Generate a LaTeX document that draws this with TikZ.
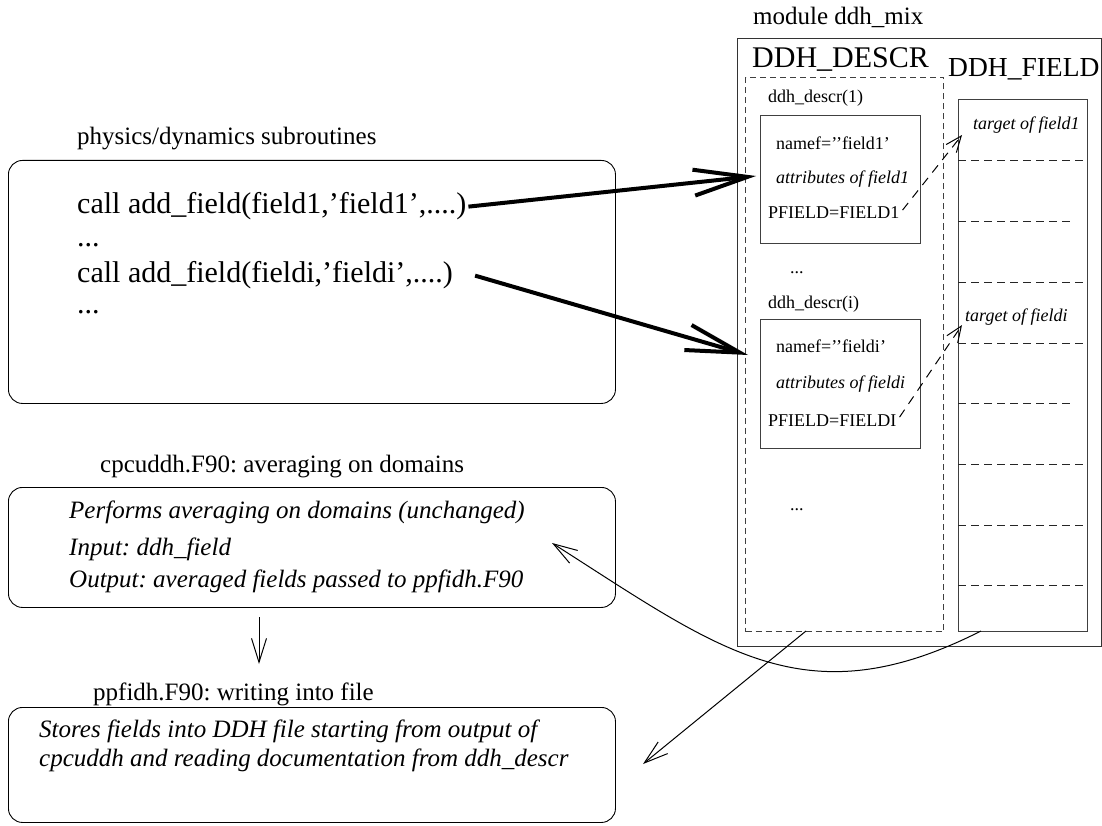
\documentclass[tikz,border=0pt]{standalone}
\usepackage{fontspec}
\setmainfont{Liberation Serif}
\usetikzlibrary{arrows.meta}
\frenchspacing
\begin{document}
\begin{tikzpicture}[x=1pt,y=-1pt,
  rbox/.style={draw, rounded corners=14pt, line width=0.9pt, inner sep=0pt, anchor=north west},
  sbox/.style={draw=black!75, line width=1pt, inner sep=0pt, anchor=north west},
  dbox/.style={draw=black!75, line width=1pt, dash pattern=on 6pt off 4pt, inner sep=0pt, anchor=north west},
  divline/.style={draw=black!85, line width=0.9pt, dash pattern=on 8pt off 5pt},
  lbl/.style={anchor=base west, inner sep=0pt, font=\fontsize{25}{30}\selectfont},
  bigtxt/.style={anchor=base west, inner sep=0pt, font=\fontsize{30}{36}\selectfont},
  smltxt/.style={anchor=base west, inner sep=0pt, font=\fontsize{18}{22}\selectfont},
  heavyarrow/.style={line width=4pt, -{Straight Barb[length=54pt, width=26pt]}},
  thinarrow/.style={line width=1pt, -{Straight Barb[length=24pt, width=15pt]}},
  dasharrow/.style={line width=1pt, dash pattern=on 9pt off 7pt, -{Straight Barb[length=16pt, width=13pt]}}
]
\useasboundingbox (0,0) rectangle (1102,826);

% ---------- left boxes ----------
\node[lbl] (physlbl) at (77,145) {physics/dynamics subroutines};
\node[rbox, minimum width=607pt, minimum height=243pt] (phys) at (8,160) {};
\node[bigtxt] (call1) at (77,214) {call add\_field(field1,’field1’,....)};
\node[bigtxt] (dots1) at (77,247) {...};
\node[bigtxt] (call2) at (77,282) {call add\_field(fieldi,’fieldi’,....)};
\node[bigtxt] (dots2) at (77,313) {...};

\node[lbl] (cpclbl) at (100,472) {cpcuddh.F90: averaging on domains};
\node[rbox, minimum width=607pt, minimum height=120pt] (cpc) at (8,487) {};
\node[lbl, font=\fontsize{25}{30}\selectfont\itshape] (cpc1) at (69,518) {Performs averaging on domains (unchanged)};
\node[lbl, font=\fontsize{25}{30}\selectfont\itshape] (cpc2) at (69,555) {Input: ddh\_field};
\node[lbl, font=\fontsize{25}{30}\selectfont\itshape] (cpc3) at (69,587) {Output: averaged fields passed to ppfidh.F90};

\node[lbl] (pplbl) at (93,700) {ppfidh.F90: writing into file};
\node[rbox, minimum width=607pt, minimum height=115pt] (pp) at (8,707) {};
\node[lbl, font=\fontsize{25}{30}\selectfont\itshape] (pp1) at (39,737) {Stores fields into DDH file starting from output of};
\node[lbl, font=\fontsize{25}{30}\selectfont\itshape] (pp2) at (39,766) {cpcuddh and reading documentation from ddh\_descr};

% ---------- module ----------
\node[lbl] (modlbl) at (753,25) {module ddh\_mix};
\node[sbox, draw=black!80, minimum width=364pt, minimum height=608pt] (mod) at (737,38) {};
\node[anchor=base west, inner sep=0pt, font=\fontsize{30}{36}\selectfont] (descrlbl) at (752,68) {DDH\_DESCR};
\node[anchor=base west, inner sep=0pt, font=\fontsize{27.5}{33}\selectfont] (fieldlbl) at (948,77) {DDH\_FIELD};

\node[dbox, minimum width=198pt, minimum height=554pt] (descr) at (745,77) {};
\node[sbox, minimum width=129pt, minimum height=532pt] (fld) at (958,99) {};

\foreach \yy in {160,282,343,464,525,585} \draw[divline] (958,\yy) -- (1087,\yy);
\foreach \yy in {221,403} \draw[divline] (958,\yy) -- (1073,\yy);

\node[smltxt, font=\fontsize{18}{22}\selectfont\itshape] (tgt1) at (973,130) {target of field1};
\node[smltxt, font=\fontsize{18}{22}\selectfont\itshape] (tgti) at (965,321) {target of fieldi};

\node[smltxt] (d1lbl) at (768,103) {ddh\_descr(1)};
\node[sbox, minimum width=160pt, minimum height=128pt] (box1) at (760,115) {};
\node[smltxt] (n1) at (776,150) {namef=’’field1’};
\node[smltxt, font=\fontsize{18}{22}\selectfont\itshape] (a1) at (776,184) {attributes of field1};
\node[smltxt] (p1) at (768,219) {PFIELD=FIELD1};
\node[smltxt] (dots3) at (790,273) {...};

\node[smltxt] (dilbl) at (768,308) {ddh\_descr(i)};
\node[sbox, minimum width=160pt, minimum height=129pt] (box2) at (760,319) {};
\node[smltxt] (ni) at (776,352) {namef=’’fieldi’};
\node[smltxt, font=\fontsize{18}{22}\selectfont\itshape] (ai) at (776,388) {attributes of fieldi};
\node[smltxt] (pi) at (768,426) {PFIELD=FIELDI};
\node[smltxt] (dots4) at (790,510) {...};

% ---------- connectors ----------
\coordinate (h1) at (756,176);
\coordinate (h2) at (748,355);
\draw[heavyarrow] ([xshift=2pt,yshift=0pt]call1.east) -- (h1);
\draw[heavyarrow] ([xshift=22pt,yshift=-1pt]call2.east) -- (h2);

\draw[dasharrow] ([xshift=3pt,yshift=3pt]p1.east) -- (962,135);
\draw[dasharrow] ([xshift=3pt,yshift=3pt]pi.east) -- (962,325);

\draw[thinarrow] (259,617) -- (259,664);

\coordinate (cs) at (981,631);
\coordinate (ce) at (552,543);
\draw[thinarrow] (cs) .. controls (805,720) and (720,650) .. (ce);

\coordinate (ss) at (806,631);
\coordinate (se) at (643,764);
\draw[thinarrow] (ss) -- (se);
\end{tikzpicture}
\end{document}
